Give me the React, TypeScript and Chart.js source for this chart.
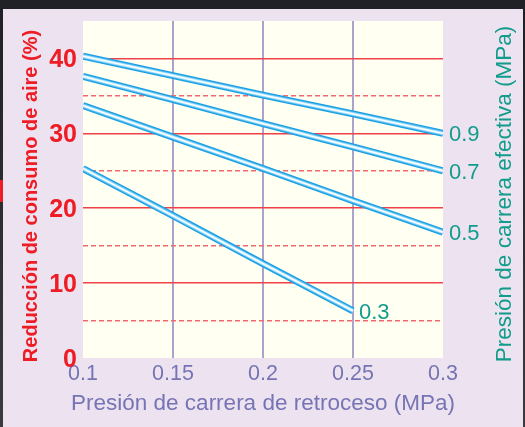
import React, { useEffect, useRef } from "react";
import { Chart, registerables } from "chart.js";

Chart.register(...registerables);

// ---- data ----
const backPressure = [0.1, 0.15, 0.2, 0.25, 0.3]; // MPa (x)
const effectivePressureLabels = ["0.9", "0.7", "0.5", "0.3"]; // MPa (series)
const reduction09 = [40.3, 37.7, 35.1, 32.6, 30.0];
const reduction07 = [37.6, 34.5, 31.3, 28.2, 25.0];
const reduction05 = [33.7, 29.5, 25.3, 21.0, 16.8];
const reduction03 = [25.3, 19.0, 12.6, 6.3];
const xTicks = [0.1, 0.15, 0.2, 0.25, 0.3];
const yTicks = [0, 10, 20, 30, 40];

const seriesValues = [reduction09, reduction07, reduction05, reduction03];

const RED = "#ee1c25";
const TEAL = "#129c8c";
const PURPLE = "#7674b4";
const FONT = "'Liberation Sans', Arial, Helvetica, sans-serif";

function buildDatasets() {
  const layers = [
    { color: "#1a9fe4", width: 7, order: 4 },
    { color: "#5cc0f0", width: 4.4, order: 3 },
    { color: "#b9e7fa", width: 2.8, order: 2 },
    { color: "#ffffff", width: 1.3, order: 1 },
  ];
  const ds: any[] = [];
  seriesValues.forEach((vals, si) => {
    layers.forEach((l, li) => {
      ds.push({
        label: effectivePressureLabels[si] + "-" + li,
        data: vals.map((v, i) => ({ x: backPressure[i], y: v })),
        borderColor: l.color,
        borderWidth: l.width,
        pointRadius: 0,
        borderCapStyle: "butt",
        tension: 0,
        fill: false,
        order: l.order,
        seriesIndex: si,
        isTop: li === layers.length - 1,
      });
    });
  });
  return ds;
}

const backgroundPlugin = {
  id: "bgPanel",
  beforeDraw(chart: any) {
    const { ctx, chartArea, width, height } = chart;
    ctx.save();
    const g = ctx.createLinearGradient(0, 0, 0, height);
    g.addColorStop(0, "#1f2025");
    g.addColorStop(1, "#3a3b41");
    ctx.fillStyle = g;
    ctx.fillRect(0, 0, width, height);
    ctx.fillStyle = "#ede3f0";
    ctx.fillRect(3, 9, width - 5, height - 9);
    ctx.fillStyle = "#ee1c25";
    ctx.fillRect(0, 180, 3, 22);
    ctx.fillStyle = "#fffff2";
    ctx.fillRect(
      chartArea.left,
      chartArea.top,
      chartArea.right - chartArea.left,
      chartArea.bottom - chartArea.top
    );
    ctx.restore();
  },
};

const labelsPlugin = {
  id: "endLabels",
  afterDatasetsDraw(chart: any) {
    const { ctx } = chart;
    ctx.save();
    ctx.font = `22px ${FONT}`;
    ctx.fillStyle = TEAL;
    ctx.textAlign = "left";
    ctx.textBaseline = "middle";
    chart.data.datasets.forEach((d: any, i: number) => {
      if (!d.isTop) return;
      const meta = chart.getDatasetMeta(i);
      const pt = meta.data[meta.data.length - 1];
      ctx.fillText(effectivePressureLabels[d.seriesIndex], pt.x + 6, pt.y + 2);
    });
    ctx.restore();
  },
  afterDraw(chart: any) {
    const { ctx, chartArea } = chart;
    // x title
    ctx.save();
    ctx.font = `22.5px ${FONT}`;
    ctx.fillStyle = PURPLE;
    ctx.textAlign = "center";
    ctx.textBaseline = "middle";
    ctx.fillText(
      "Presión de carrera de retroceso (MPa)",
      (chartArea.left + chartArea.right) / 2,
      404
    );
    ctx.restore();
    // left title
    ctx.save();
    ctx.translate(31, 196);
    ctx.rotate(-Math.PI / 2);
    ctx.font = `bold 20px ${FONT}`;
    ctx.fillStyle = RED;
    ctx.textAlign = "center";
    ctx.textBaseline = "middle";
    ctx.fillText("Reducción de consumo de aire (%)", 0, 0);
    ctx.restore();
    // right title
    ctx.save();
    ctx.translate(505, 194);
    ctx.rotate(-Math.PI / 2);
    ctx.font = `22.5px ${FONT}`;
    ctx.fillStyle = TEAL;
    ctx.textAlign = "center";
    ctx.textBaseline = "middle";
    ctx.fillText("Presión de carrera efectiva (MPa)", 0, 0);
    ctx.restore();
  },
};

export default function App() {
  const ref = useRef<HTMLCanvasElement | null>(null);
  useEffect(() => {
    if (!ref.current) return;
    const chart = new Chart(ref.current, {
      type: "line",
      data: { datasets: buildDatasets() },
      options: {
        responsive: false,
        animation: false,
        devicePixelRatio: 1,
        layout: { padding: { top: 9, right: 82, left: 0, bottom: 0 } },
        plugins: {
          legend: { display: false },
          tooltip: { enabled: false },
          title: { display: false },
        },
        scales: {
          x: {
            type: "linear",
            min: 0.1,
            max: 0.3,
            afterBuildTicks: (scale: any) => {
              scale.ticks = xTicks.map((v) => ({ value: v }));
            },
            afterFit: (scale: any) => {
              scale.height = 69;
            },
            ticks: {
              color: PURPLE,
              font: { family: FONT, size: 21.5 },
              padding: 3,
              maxRotation: 0,
              autoSkip: false,
              callback: (v: any) => String(Number(Number(v).toFixed(2))),
            },
            grid: {
              drawTicks: false,
              lineWidth: 2,
              color: (c: any) => {
                const v = c.tick ? c.tick.value : 0;
                return Math.abs(v - 0.1) < 1e-6 || Math.abs(v - 0.3) < 1e-6
                  ? "rgba(0,0,0,0)"
                  : "#aaa4cc";
              },
            },
            border: { display: false },
            title: { display: false },
          },
          y: {
            type: "linear",
            min: 0,
            max: 45,
            afterBuildTicks: (scale: any) => {
              const t: any[] = [];
              for (let v = 0; v <= 45; v += 5) t.push({ value: v });
              scale.ticks = t;
            },
            afterFit: (scale: any) => {
              scale.width = 83;
            },
            ticks: {
              color: RED,
              font: { family: FONT, size: 25, weight: "bold" },
              padding: 6,
              labelOffset: 2,
              autoSkip: false,
              callback: (v: any) => (yTicks.includes(Number(v)) ? String(v) : ""),
            },
            grid: {
              drawTicks: false,
              lineWidth: 1.6,
              color: (c: any) => {
                const v = c.tick ? c.tick.value : 0;
                if (v === 0 || v === 45) return "rgba(0,0,0,0)";
                return v % 10 === 0 ? "#f04048" : "#f36870";
              },
            },
            border: {
              display: false,
              dash: (c: any) => {
                const v = c.tick ? c.tick.value : 0;
                return v % 10 === 0 ? [] : [5, 3];
              },
            },
          },
        },
      },
      plugins: [backgroundPlugin, labelsPlugin],
    } as any);
    return () => chart.destroy();
  }, []);
  return (
    <div style={{ position: "fixed", left: 0, top: 0, width: 525, height: 427 }}>
      <canvas ref={ref} width={525} height={427} style={{ display: "block" }} />
    </div>
  );
}
